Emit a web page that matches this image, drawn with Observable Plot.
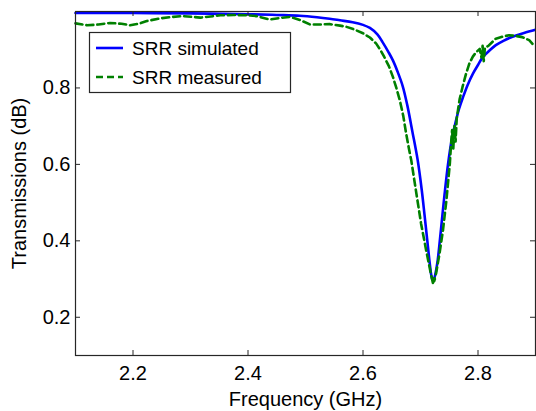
<!DOCTYPE html>
<html><head><meta charset="utf-8">
<script src="https://cdn.jsdelivr.net/npm/d3@7"></script>
<script src="https://cdn.jsdelivr.net/npm/@observablehq/plot@0.6"></script>
<style>
body{margin:0;background:#fff;}
#chart svg{font-family:"Liberation Sans",Arial,Helvetica,sans-serif;}
</style>
</head><body><div id="chart"></div>
<script>
// Simulated transmission
const simFreq = [2.10,2.20,2.30,2.40,2.45,2.49,2.52,2.542,2.56,2.582,2.60,2.612,2.625,2.634,2.645,2.652,2.660,2.669,2.677,2.686,2.695,2.702,2.707,2.712,2.716,2.719,2.721,2.724,2.727,2.730,2.736,2.742,2.748,2.754,2.761,2.767,2.774,2.782,2.791,2.800,2.808,2.820,2.831,2.845,2.860,2.880,2.900];
const simVal  = [0.996,0.996,0.995,0.993,0.991,0.989,0.985,0.981,0.977,0.972,0.965,0.957,0.940,0.920,0.892,0.872,0.843,0.805,0.755,0.685,0.612,0.535,0.468,0.398,0.342,0.308,0.297,0.303,0.322,0.350,0.436,0.524,0.602,0.662,0.710,0.745,0.776,0.808,0.837,0.860,0.880,0.898,0.912,0.924,0.934,0.944,0.952];
// Measured transmission
const measFreq = [2.100,2.120,2.140,2.160,2.180,2.195,2.210,2.224,2.247,2.270,2.287,2.317,2.352,2.375,2.398,2.415,2.438,2.455,2.473,2.490,2.508,2.525,2.542,2.560,2.571,2.585,2.600,2.612,2.623,2.630,2.637,2.645,2.652,2.658,2.664,2.670,2.675,2.680,2.684,2.692,2.701,2.710,2.718,2.722,2.725,2.723,2.727,2.733,2.739,2.745,2.751,2.753,2.755,2.757,2.759,2.761,2.763,2.768,2.773,2.779,2.785,2.791,2.797,2.803,2.806,2.808,2.810,2.812,2.818,2.831,2.845,2.854,2.866,2.877,2.889,2.895,2.900];
const measVal  = [0.969,0.964,0.966,0.970,0.968,0.964,0.968,0.975,0.982,0.986,0.988,0.984,0.990,0.991,0.990,0.988,0.979,0.983,0.986,0.978,0.966,0.966,0.967,0.963,0.960,0.953,0.943,0.932,0.916,0.900,0.881,0.857,0.829,0.800,0.768,0.727,0.681,0.640,0.610,0.532,0.445,0.374,0.314,0.287,0.300,0.296,0.314,0.366,0.427,0.505,0.602,0.650,0.690,0.640,0.700,0.660,0.720,0.770,0.802,0.836,0.864,0.882,0.894,0.902,0.880,0.910,0.870,0.905,0.910,0.929,0.935,0.938,0.936,0.933,0.925,0.915,0.910];
const xTicks = [2.2,2.4,2.6,2.8];
const yTicks = [0.2,0.4,0.6,0.8];
const seriesNames = ["SRR simulated","SRR measured"];
const seriesColors = ["#0000ff","#008000"];

const sim = simFreq.map((f,i)=>({f, v: simVal[i]}));
const meas = measFreq.map((f,i)=>({f, v: measVal[i]}));

const W=536,H=411,ML=75,MR=1,MT=11,MB=56;
const fw=W-ML-MR, fh=H-MT-MB, tk=5;
const axisColor="#262626";

const plot = Plot.plot({
  width:W, height:H, marginLeft:ML, marginRight:MR, marginTop:MT, marginBottom:MB,
  style:{fontFamily:'"Liberation Sans",Arial,sans-serif', fontSize:"20px", color:"#000", background:"#fff", overflow:"visible"},
  x:{domain:[2.1,2.9]},
  y:{domain:[0.1,1.0]},
  marks:[
    Plot.line(sim,{x:"f",y:"v",stroke:seriesColors[0],strokeWidth:2.6,curve:"catmull-rom"}),
    Plot.line(meas,{x:"f",y:"v",stroke:seriesColors[1],strokeWidth:2.6,strokeDasharray:"7,4"}),
    Plot.frame({stroke:axisColor,strokeWidth:1.2}),
    Plot.tickX(xTicks,{x:d=>d,insetTop:fh-tk,stroke:axisColor}),
    Plot.tickX(xTicks,{x:d=>d,insetBottom:fh-tk,stroke:axisColor}),
    Plot.tickY(yTicks,{y:d=>d,insetRight:fw-tk,stroke:axisColor}),
    Plot.tickY(yTicks,{y:d=>d,insetLeft:fw-tk,stroke:axisColor}),
    Plot.axisX({ticks:xTicks,tickSize:0,tickPadding:10,tickFormat:d3.format(".1f"),label:"Frequency (GHz)",labelAnchor:"center",labelArrow:"none",labelOffset:50}),
    Plot.axisY({ticks:yTicks,tickSize:0,tickPadding:5,tickFormat:d3.format(".1f"),label:"Transmissions (dB)",labelAnchor:"center",labelArrow:"none",labelOffset:64})
  ]
});
document.getElementById("chart").appendChild(plot);

// Legend
const svg = d3.select(plot);
const lg = svg.append("g").attr("text-anchor","start");
lg.append("rect").attr("x",89.5).attr("y",32.5).attr("width",201).attr("height",60)
  .attr("fill","#fff").attr("stroke",axisColor).attr("stroke-width",1.2);
seriesNames.forEach((name,i)=>{
  const cy = 48 + i*29;
  lg.append("line").attr("x1",96).attr("x2",123).attr("y1",cy).attr("y2",cy)
    .attr("stroke",seriesColors[i]).attr("stroke-width",2.6)
    .attr("stroke-dasharray", i===1 ? "7,4" : null);
  lg.append("text").attr("x",132).attr("y",cy+7).attr("text-anchor","start")
    .attr("font-size","19px").attr("fill","#000").text(name);
});
</script></body></html>
